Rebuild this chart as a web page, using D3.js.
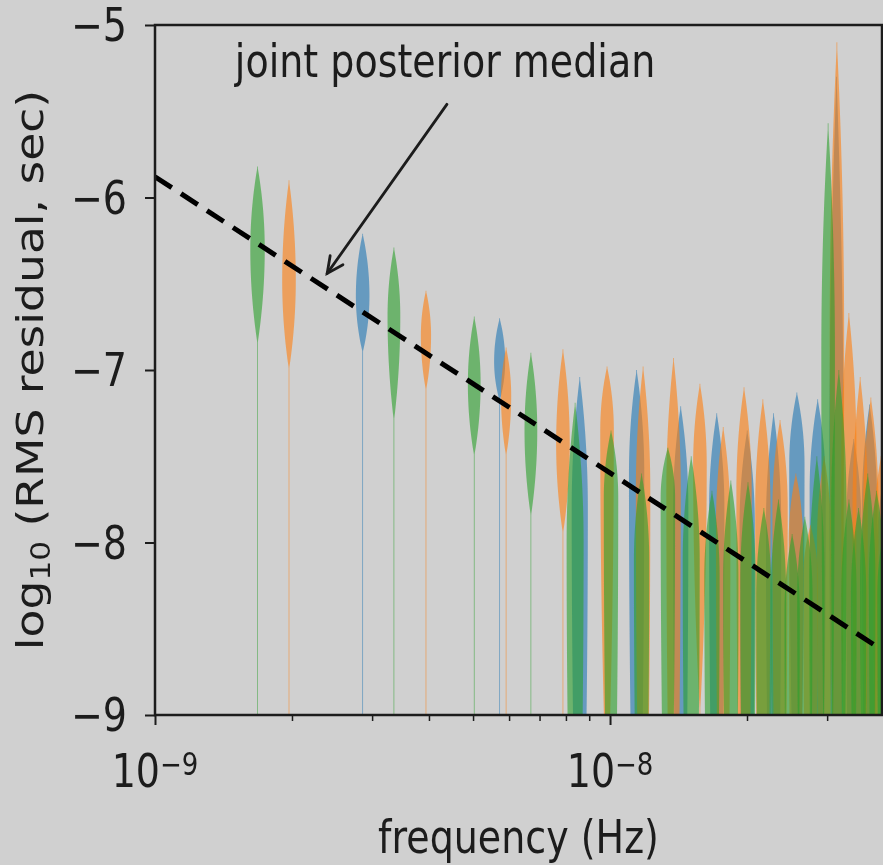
<!DOCTYPE html>
<html>
<head>
<meta charset="utf-8">
<script src="https://cdn.jsdelivr.net/npm/d3@7"></script>
<style>
  html, body { margin: 0; padding: 0; background: #d0d0d0; }
  svg { display: block; font-family: "DejaVu Sans", sans-serif; }
</style>
</head>
<body>
<div class="chart"></div>
<script>
// one violin per row: [frequency (nHz), upper tip, mode, lower end of body, peak density]
// values are log10 of the RMS residual in seconds
let blueViolins = [
  [2.86, -6.21, -6.57, -6.90, 0.80],
  [5.72, -6.70, -6.95, -7.18, 0.65],
  [8.58, -7.04, -7.80, -10.8, 0.95],
  [11.44, -7.00, -7.60, -10.8, 0.90],
  [14.30, -7.21, -7.80, -11.0, 0.90],
  [17.16, -7.25, -7.80, -11.0, 0.90],
  [20.02, -7.35, -7.90, -11.0, 0.90],
  [22.88, -7.25, -7.90, -11.0, 0.90],
  [25.74, -7.13, -7.55, -10.2, 0.90],
  [28.60, -7.17, -7.70, -11.0, 0.95],
  [31.46, -5.30, -7.60, -11.0, 0.85],
  [34.32, -7.40, -7.90, -11.0, 0.90],
  [37.18, -7.20, -7.80, -11.0, 0.90],
  [40.04, -7.60, -8.10, -11.0, 0.90]
];
let orangeViolins = [
  [1.97, -5.90, -6.48, -7.00, 0.80],
  [3.94, -6.54, -6.80, -7.12, 0.60],
  [5.91, -6.87, -7.15, -7.50, 0.60],
  [7.88, -6.88, -7.43, -7.95, 0.80],
  [9.85, -6.98, -7.35, -9.60, 0.80],
  [11.82, -6.98, -7.70, -10.8, 0.85],
  [13.79, -6.93, -7.70, -10.8, 0.85],
  [15.76, -7.08, -7.55, -9.00, 0.80],
  [17.73, -7.33, -7.90, -11.0, 0.85],
  [19.70, -7.10, -7.70, -11.0, 0.90],
  [21.67, -7.17, -7.80, -11.0, 0.90],
  [23.64, -7.29, -7.80, -11.0, 0.90],
  [25.61, -7.60, -8.00, -11.0, 0.85],
  [27.58, -7.90, -8.20, -11.0, 0.85],
  [29.55, -7.50, -8.00, -11.0, 0.85],
  [31.52, -5.10, -6.80, -10.8, 0.85],
  [33.49, -6.67, -7.50, -11.0, 0.90],
  [35.46, -7.04, -7.80, -11.0, 0.90],
  [37.43, -7.16, -7.80, -11.0, 0.90],
  [39.40, -7.50, -8.00, -11.0, 0.90]
];
let greenViolins = [
  [1.68, -5.82, -6.30, -6.85, 0.85],
  [3.35, -6.29, -6.69, -7.30, 0.75],
  [5.03, -6.69, -7.08, -7.50, 0.75],
  [6.70, -6.90, -7.35, -7.85, 0.75],
  [8.38, -7.19, -8.00, -11.0, 1.00],
  [10.05, -7.35, -7.74, -10.8, 0.85],
  [11.73, -7.60, -8.10, -11.0, 0.90],
  [13.40, -7.45, -7.74, -10.8, 0.85],
  [15.08, -7.50, -8.10, -11.0, 1.00],
  [16.75, -7.70, -8.20, -11.0, 0.90],
  [18.43, -7.64, -8.20, -11.0, 0.90],
  [20.10, -7.65, -8.20, -11.0, 0.90],
  [21.78, -7.80, -8.30, -11.0, 0.90],
  [23.45, -7.75, -8.30, -11.0, 0.90],
  [25.13, -7.95, -8.40, -11.0, 0.90],
  [26.80, -7.85, -8.30, -11.0, 0.90],
  [28.48, -7.50, -8.20, -11.0, 0.90],
  [30.15, -5.57, -6.90, -11.0, 0.80],
  [31.83, -7.00, -7.80, -11.0, 0.90],
  [33.50, -7.75, -8.30, -11.0, 0.90],
  [35.18, -7.80, -8.30, -11.0, 0.90],
  [36.85, -7.60, -8.20, -11.0, 0.90],
  [38.53, -7.70, -8.20, -11.0, 0.90],
  [40.20, -7.90, -8.30, -11.0, 0.90]
];

let xMajorTicks = [1e-9, 1e-8];
let xMajorLabels = ['−9', '−8'];
let xMinorTicks = [2e-9, 3e-9, 4e-9, 5e-9, 6e-9, 7e-9, 8e-9, 9e-9, 2e-8, 3e-8];
let yTicks = [-5, -6, -7, -8, -9];

// joint posterior median power law, two ends
let medianFreq = [1e-9, 4e-8];
let medianLog = [-5.88, -8.63];

let annotText = 'joint posterior median';
let annotTextAt = [4.34e-9, -5.30];
let annotFrom = [4.38e-9, -5.46];
let annotTip = [2.39e-9, -6.44];

let width = 883;
let height = 865;
let plotLeft = 155, plotRight = 882, plotTop = 25, plotBottom = 715;
let stretch = 1.2;   // the picture's text is taller than wide
let ink = '#1c1c1c';

let svg = d3.select('.chart')
            .append('svg')
            .attr('width', width)
            .attr('height', height);

// the reference is a soft, slightly blurred image
svg.append('filter')
   .attr('id', 'soft')
   .append('feGaussianBlur')
   .attr('stdDeviation', 0.6);

let root = svg.append('g').attr('filter', 'url(#soft)');
root.append('rect')
   .attr('width', width)
   .attr('height', height)
   .attr('fill', '#d0d0d0');

let xScale = d3.scaleLog()
               .domain([1e-9, 3.96e-8])
               .range([plotLeft, plotRight]);
let yScale = d3.scaleLinear()
               .domain([-9, -5])
               .range([plotBottom, plotTop]);
let wScale = d3.scaleLinear()
               .domain([0, 1])
               .range([0, 8.5]);

svg.append('clipPath')
   .attr('id', 'plot-clip')
   .append('rect')
   .attr('x', plotLeft)
   .attr('y', plotTop)
   .attr('width', plotRight - plotLeft)
   .attr('height', plotBottom - plotTop);

let plot = root.append('g').attr('clip-path', 'url(#plot-clip)');

// density of a violin at value v
function density(d, v) {
  let hi = d[1], mode = d[2], lo = d[3], w = d[4];
  let u = v >= mode ? (v - mode) / (hi - mode) : (mode - v) / (mode - lo);
  let body = u < 1 ? w * (1 - u * u) : 0;
  return Math.max(body, 0.045);
}

function drawViolins(rows, color) {
  plot.append('g')
      .selectAll('path')
      .data(rows)
      .enter()
      .append('path')
      .attr('fill', color)
      .attr('fill-opacity', 0.6)
      .attr('d', d => {
        let cx = xScale(d[0] * 1e-9);
        let vs = d3.range(d[1], -9.4, -0.01);
        let area = d3.area()
                     .y(v => yScale(v))
                     .x0(v => cx - wScale(density(d, v)))
                     .x1(v => cx + wScale(density(d, v)));
        return area(vs);
      });
}

drawViolins(blueViolins, '#1f77b4');
drawViolins(orangeViolins, '#ff7f0e');
drawViolins(greenViolins, '#2ca02c');

plot.append('path')
    .datum(d3.zip(medianFreq, medianLog))
    .attr('fill', 'none')
    .attr('stroke', '#000')
    .attr('stroke-width', 5)
    .attr('stroke-dasharray', '20,11')
    .attr('d', d3.line().x(d => xScale(d[0])).y(d => yScale(d[1])));

// ticks
let xMajor = d3.axisBottom(xScale).tickValues(xMajorTicks).tickSize(10).tickFormat('');
let xMinor = d3.axisBottom(xScale).tickValues(xMinorTicks).tickSize(6).tickFormat('');
let yAxis = d3.axisLeft(yScale).tickValues(yTicks).tickSize(10).tickFormat('');

[[xMajor, 'translate(0,' + plotBottom + ')', 2],
 [xMinor, 'translate(0,' + plotBottom + ')', 1.5],
 [yAxis, 'translate(' + plotLeft + ',0)', 2]].forEach(a => {
  let g = root.append('g').attr('transform', a[1]).call(a[0]);
  g.select('.domain').remove();
  g.selectAll('line').attr('stroke', ink).attr('stroke-width', a[2]);
});

// spines
root.append('rect')
   .attr('x', plotLeft)
   .attr('y', plotTop)
   .attr('width', plotRight - plotLeft)
   .attr('height', plotBottom - plotTop)
   .attr('fill', 'none')
   .attr('stroke', ink)
   .attr('stroke-width', 2.5);

// y tick labels
root.append('g')
   .selectAll('text')
   .data(yTicks)
   .enter()
   .append('text')
   .attr('transform', d => 'translate(127,' + yScale(d) + ') scale(1,' + stretch + ')')
   .attr('dy', '0.36em')
   .attr('text-anchor', 'end')
   .attr('font-size', 38)
   .attr('fill', ink)
   .text(d => '−' + Math.abs(d));

// x tick labels, 10 with a superscript
let xLab = root.append('g')
   .selectAll('text')
   .data(xMajorTicks)
   .enter()
   .append('text')
   .attr('transform', d => 'translate(' + xScale(d) + ',787) scale(1,' + stretch + ')')
   .attr('text-anchor', 'middle')
   .attr('font-size', 38)
   .attr('fill', ink);
xLab.append('tspan').text('10');
xLab.append('tspan')
    .attr('dy', -10)
    .attr('font-size', 26)
    .text((d, i) => xMajorLabels[i]);

// axis labels
root.append('text')
   .attr('transform', 'translate(' + (plotLeft + plotRight) / 2 + ',853) scale(1,' + stretch + ')')
   .attr('text-anchor', 'middle')
   .attr('font-size', 38)
   .attr('fill', ink)
   .text('frequency (Hz)');

let yLab = root.append('text')
   .attr('transform', 'translate(43,' + (plotTop + plotBottom) / 2 + ') scale(1,' + stretch + ') rotate(-90)')
   .attr('text-anchor', 'middle')
   .attr('font-size', 38)
   .attr('fill', ink);
yLab.append('tspan').text('log');
yLab.append('tspan').attr('dy', 7).attr('font-size', 26).text('10');
yLab.append('tspan').attr('dy', -7).text(' (RMS residual, sec)');

// annotation
root.append('text')
   .attr('transform', 'translate(' + xScale(annotTextAt[0]) + ',' + yScale(annotTextAt[1]) + ') scale(1,' + stretch + ')')
   .attr('text-anchor', 'middle')
   .attr('font-size', 38)
   .attr('fill', ink)
   .text(annotText);

let ax0 = xScale(annotFrom[0]), ay0 = yScale(annotFrom[1]);
let ax1 = xScale(annotTip[0]), ay1 = yScale(annotTip[1]);
let ang = Math.atan2(ay0 - ay1, ax0 - ax1);
let head = 18, spread = 0.45;
let arrow = root.append('g')
   .attr('stroke', ink)
   .attr('stroke-width', 2.8)
   .attr('fill', 'none')
   .attr('stroke-linecap', 'round');
arrow.append('line')
     .attr('x1', ax0).attr('y1', ay0)
     .attr('x2', ax1).attr('y2', ay1);
arrow.append('path')
     .attr('d', 'M' + (ax1 + head * Math.cos(ang - spread)) + ',' + (ay1 + head * Math.sin(ang - spread)) +
                'L' + ax1 + ',' + ay1 +
                'L' + (ax1 + head * Math.cos(ang + spread)) + ',' + (ay1 + head * Math.sin(ang + spread)));
</script>
</body>
</html>
